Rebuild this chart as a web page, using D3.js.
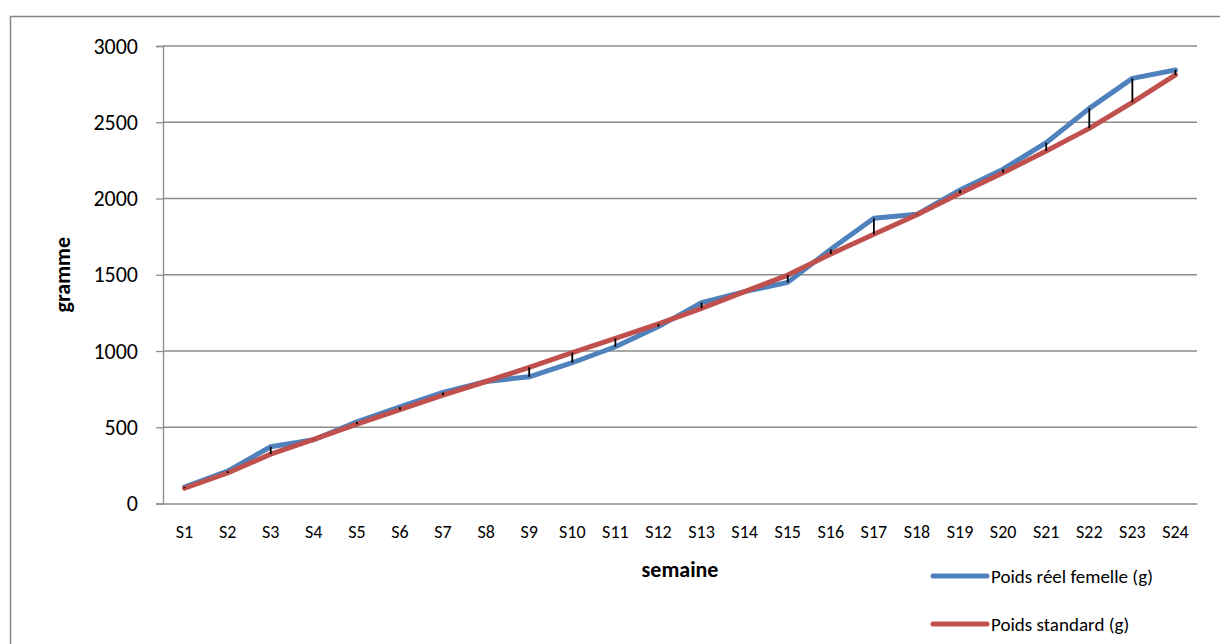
<!DOCTYPE html>
<html>
<head>
<meta charset="utf-8">
<script src="https://cdn.jsdelivr.net/npm/d3@7"></script>
<style>
  html, body { margin: 0; padding: 0; background: #fff; }
  svg { display: block; font-family: Calibri, Carlito, Lato, "Open Sans", sans-serif; }
</style>
</head>
<body>
<svg id="chart" width="1220" height="644"></svg>
<script>
// Weekly weights (g)
const weeks = ["S1","S2","S3","S4","S5","S6","S7","S8","S9","S10","S11","S12",
               "S13","S14","S15","S16","S17","S18","S19","S20","S21","S22","S23","S24"];
const poidsReel = [108, 212, 372, 418, 535, 633, 728, 800, 831, 923, 1028, 1160,
                   1317, 1389, 1450, 1667, 1870, 1896, 2056, 2192, 2366, 2591, 2788, 2843];
const poidsStandard = [100, 200, 324, 420, 520, 615, 710, 800, 893, 989, 1083, 1178,
                       1280, 1389, 1498, 1636, 1765, 1893, 2034, 2169, 2311, 2460, 2631, 2810];
const yTicks = [0, 500, 1000, 1500, 2000, 2500, 3000];
const seriesNames = ["Poids réel femelle (g)", "Poids standard (g)"];
const seriesColors = ["#4F81BD", "#C0504D"];

const FONT = "Calibri, Carlito, Lato, sans-serif";
const svg = d3.select("#chart");
const plot = { left: 163, right: 1197, top: 46, bottom: 503.5 };

// outer frame
svg.append("rect")
  .attr("x", 10.5).attr("y", 16.5)
  .attr("width", 1230).attr("height", 660)
  .attr("fill", "none").attr("stroke", "#868686").attr("stroke-width", 1.5);

const x = d3.scaleBand().domain(weeks).range([plot.left, plot.right]);
const y = d3.scaleLinear().domain([0, 3000]).range([plot.bottom, plot.top]);
const cx = d => x(d) + x.bandwidth() / 2;

// horizontal gridlines
svg.append("g").selectAll("line").data(yTicks.filter(v => v > 0)).join("line")
  .attr("x1", plot.left).attr("x2", plot.right)
  .attr("y1", d => y(d)).attr("y2", d => y(d))
  .attr("stroke", "#8c8c8c").attr("stroke-width", 1.3);

// y axis
const yAxis = svg.append("g").attr("transform", `translate(${plot.left},0)`)
  .call(d3.axisLeft(y).tickValues(yTicks).tickFormat(d3.format("d"))
        .tickSize(7).tickPadding(18));
yAxis.select(".domain").attr("stroke", "#8c8c8c").attr("stroke-width", 1.3);
yAxis.selectAll(".tick line").attr("stroke", "#8c8c8c").attr("stroke-width", 1.3);
yAxis.selectAll("text").attr("font-size", 22).attr("fill", "#000")
  .attr("font-family", FONT);

// x axis
const xAxis = svg.append("g").attr("transform", `translate(0,${plot.bottom})`)
  .call(d3.axisBottom(x).tickSize(0).tickPadding(0));
xAxis.select(".domain").attr("stroke", "#8c8c8c").attr("stroke-width", 1.3);
xAxis.selectAll("text").attr("font-size", 18).attr("fill", "#000")
  .attr("font-family", FONT).attr("y", 34).attr("dy", null);

// axis titles
svg.append("text")
  .attr("x", (plot.left + plot.right) / 2).attr("y", 577)
  .attr("text-anchor", "middle").attr("font-size", 22).attr("font-weight", "bold")
  .attr("font-family", FONT)
  .text("semaine");
svg.append("text")
  .attr("transform", `translate(70,${(plot.top + plot.bottom) / 2}) rotate(-90)`)
  .attr("text-anchor", "middle").attr("font-size", 22).attr("font-weight", "bold")
  .attr("font-family", FONT)
  .text("gramme");

// series lines
const line = d3.line().x((d, i) => cx(weeks[i])).y(d => y(d));
[poidsReel, poidsStandard].forEach((vals, k) => {
  svg.append("path").datum(vals)
    .attr("d", line)
    .attr("fill", "none")
    .attr("stroke", seriesColors[k])
    .attr("stroke-width", 5)
    .attr("stroke-linejoin", "round")
    .attr("stroke-linecap", "round");
});

// high-low lines between the two series
svg.append("g").selectAll("line").data(weeks).join("line")
  .attr("x1", d => cx(d)).attr("x2", d => cx(d))
  .attr("y1", (d, i) => y(poidsReel[i]))
  .attr("y2", (d, i) => y(poidsStandard[i]))
  .attr("stroke", "#000").attr("stroke-width", 1.8);

// legend
const legend = svg.append("g");
seriesNames.forEach((name, k) => {
  const ly = 576 + k * 48;
  legend.append("line")
    .attr("x1", 933).attr("x2", 987).attr("y1", ly).attr("y2", ly)
    .attr("stroke", seriesColors[k]).attr("stroke-width", 5)
    .attr("stroke-linecap", "round");
  legend.append("text")
    .attr("x", 991).attr("y", ly).attr("dy", "0.36em")
    .attr("font-size", 19).attr("fill", "#000")
    .attr("font-family", FONT)
    .text(name);
});
</script>
</body>
</html>
